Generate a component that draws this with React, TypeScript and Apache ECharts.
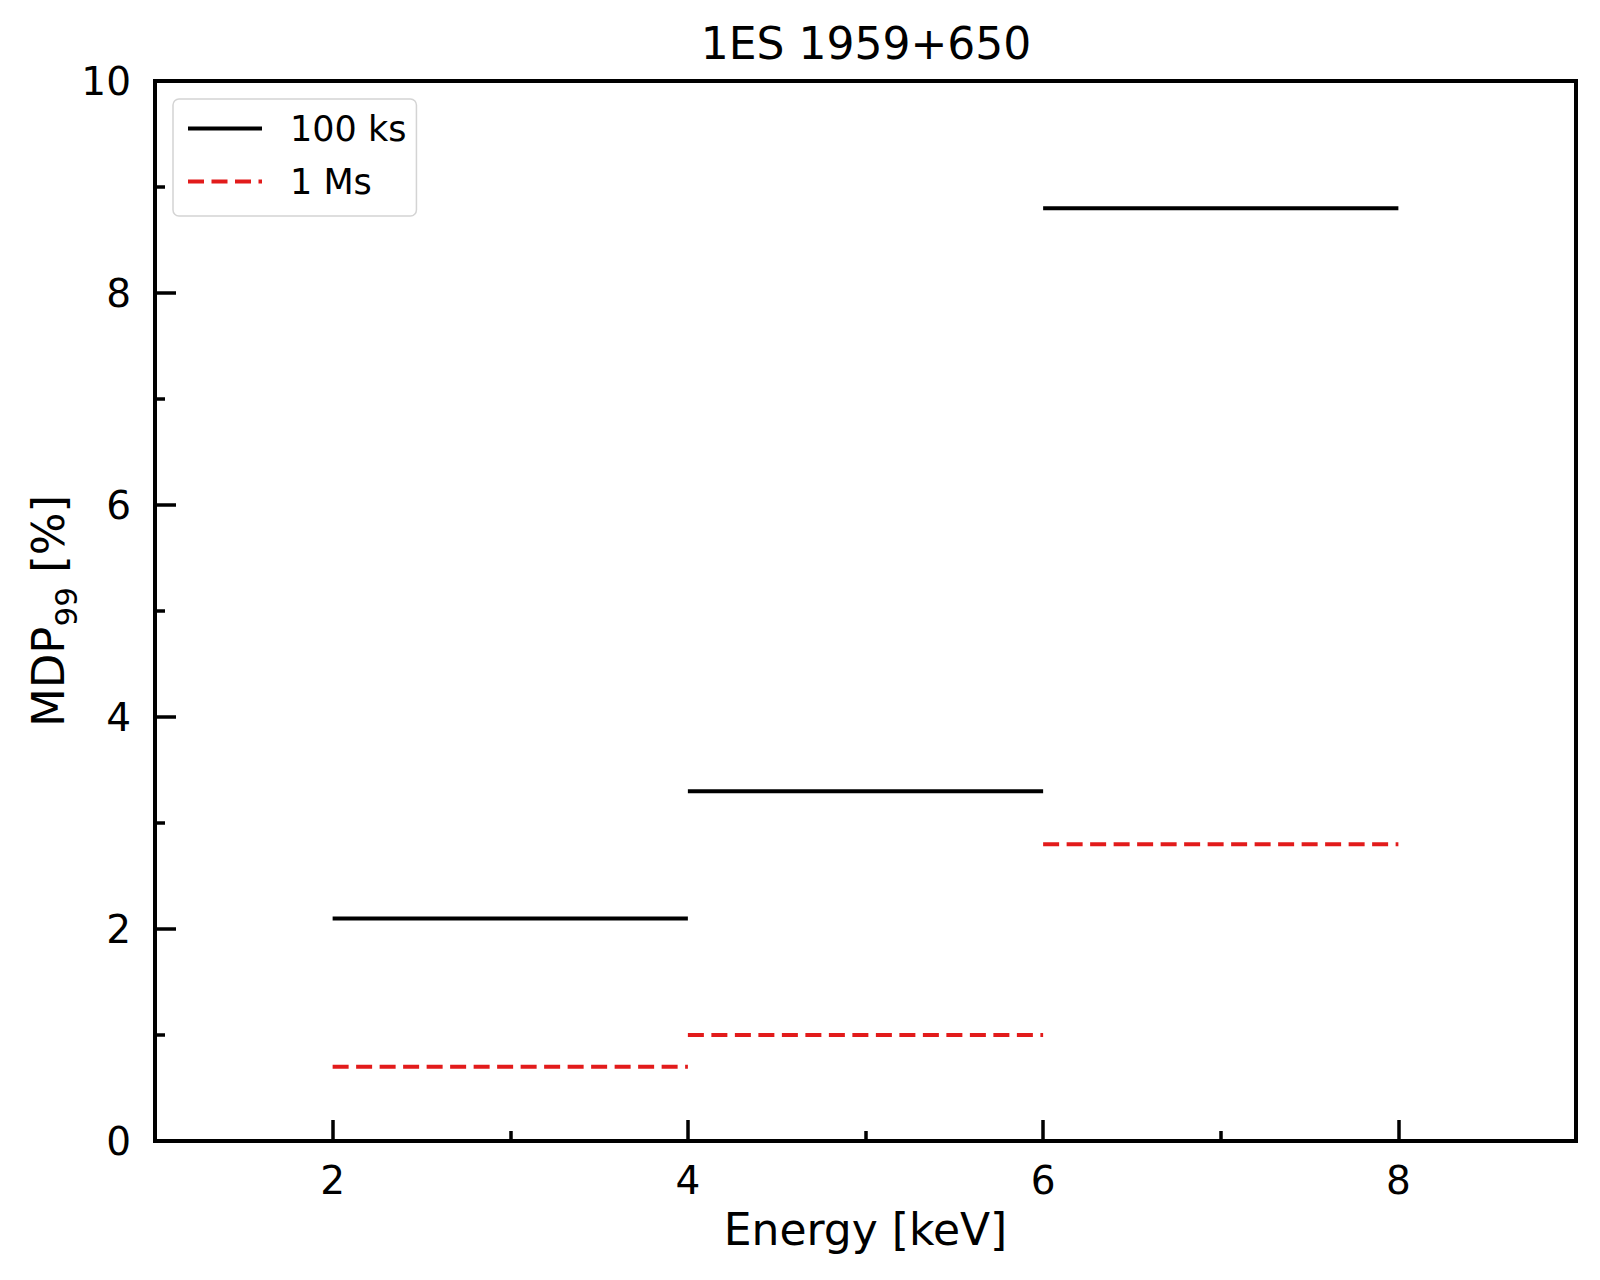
import React, { useEffect, useRef } from "react";
import * as echarts from "echarts";

const chartTitle = "1ES 1959+650";
const xAxisName = "Energy [keV]";
const seriesNames = ["100 ks", "1 Ms"];
const binStarts = [2, 4, 6];
const binEnds = [4, 6, 8];
const mdp100ks = [2.1, 3.3, 8.8];
const mdp1Ms = [0.7, 1.0, 2.8];
const xMajorTicks = [2, 4, 6, 8];
const xMinorTicks = [3, 5, 7];

const FONT = "DejaVu Sans";
const RED = "#e21b1b";

export default function App() {
  const ref = useRef<HTMLDivElement>(null);
  useEffect(() => {
    if (!ref.current) return;
    const chart = echarts.init(ref.current, null, { renderer: "svg" });

    const stepSeries = (name: string, values: number[], color: string, type: any) =>
      values.map((v, i) => ({
        type: "line",
        name,
        xAxisIndex: 0,
        yAxisIndex: 0,
        data: [
          [binStarts[i], v],
          [binEnds[i], v],
        ],
        symbol: "none",
        silent: true,
        itemStyle: { color },
        lineStyle: { color, width: 4, type, cap: "butt" },
        z: 3,
      }));

    const option: any = {
      animation: false,
      backgroundColor: "#fff",
      title: {
        text: chartTitle,
        left: 861,
        top: 16,
        textAlign: "center",
        textStyle: { fontFamily: FONT, fontSize: 44, fontWeight: "normal", color: "#000" },
      },
      legend: {
        data: seriesNames,
        orient: "vertical",
        left: 173,
        top: 99,
        padding: [12, 10, 17, 13],
        itemGap: 18,
        itemWidth: 74,
        itemHeight: 14,
        backgroundColor: "rgba(255,255,255,0.8)",
        borderColor: "#d4d4d4",
        borderWidth: 1.5,
        borderRadius: 6,
        itemStyle: { color: "rgba(0,0,0,0)", borderColor: "rgba(0,0,0,0)", borderWidth: 0 },
        lineStyle: { width: 4 },
        textStyle: { fontFamily: FONT, fontSize: 35, color: "#000", padding: [0, 0, 0, 23] },
      },
      grid: {
        left: 155,
        top: 81,
        width: 1421,
        height: 1060,
        show: true,
        borderColor: "#000",
        borderWidth: 4,
        backgroundColor: "transparent",
        containLabel: false,
        outerBoundsMode: "none",
      },
      xAxis: [
        {
          type: "value",
          min: 1,
          max: 9,
          position: "bottom",
          name: xAxisName,
          nameLocation: "middle",
          nameGap: 66,
          nameMoveOverlap: false,
          nameTextStyle: { fontFamily: FONT, fontSize: 44, color: "#000" },
          axisLine: { show: true, lineStyle: { color: "#000", width: 4 } },
          axisTick: {
            show: true,
            inside: true,
            length: 21,
            customValues: xMajorTicks,
            lineStyle: { color: "#000", width: 3.5 },
          },
          axisLabel: {
            customValues: xMajorTicks,
            fontFamily: FONT,
            fontSize: 39,
            color: "#000",
            margin: 20,
          },
          splitLine: { show: false },
        },
        {
          type: "value",
          min: 1,
          max: 9,
          position: "bottom",
          axisLine: { show: false },
          axisTick: {
            show: true,
            inside: true,
            length: 10,
            customValues: xMinorTicks,
            lineStyle: { color: "#000", width: 3.5 },
          },
          axisLabel: { show: false },
          splitLine: { show: false },
        },
      ],
      yAxis: {
        type: "value",
        min: 0,
        max: 10,
        interval: 2,
        name: "{a|MDP}{b|99}{a| [%]}",
        nameLocation: "middle",
        nameGap: 79,
        nameMoveOverlap: false,
        nameTextStyle: {
          color: "#000",
          rich: {
            a: { fontFamily: FONT, fontSize: 45, color: "#000", lineHeight: 50, verticalAlign: "top" },
            b: {
              fontFamily: FONT,
              fontSize: 31,
              color: "#000",
              lineHeight: 31,
              verticalAlign: "top",
              padding: [24, 0, 0, 0],
            },
          },
        },
        axisLine: { show: true, lineStyle: { color: "#000", width: 4 } },
        axisTick: { show: true, inside: true, length: 21, lineStyle: { color: "#000", width: 3.5 } },
        minorTick: { show: true, splitNumber: 2, length: 10, lineStyle: { color: "#000", width: 3.5 } },
        axisLabel: {
          fontFamily: FONT,
          fontSize: 39,
          color: "#000",
          margin: 24,
          showMinLabel: true,
          showMaxLabel: true,
        },
        splitLine: { show: false },
        minorSplitLine: { show: false },
      },
      series: [
        ...stepSeries(seriesNames[0], mdp100ks, "#000", "solid"),
        ...stepSeries(seriesNames[1], mdp1Ms, RED, [16, 7.5]),
      ],
    };

    chart.setOption(option);
    return () => chart.dispose();
  }, []);

  return (
    <div
      ref={ref}
      style={{ position: "absolute", left: 0, top: 0, width: 1600, height: 1280, background: "#fff" }}
    />
  );
}
